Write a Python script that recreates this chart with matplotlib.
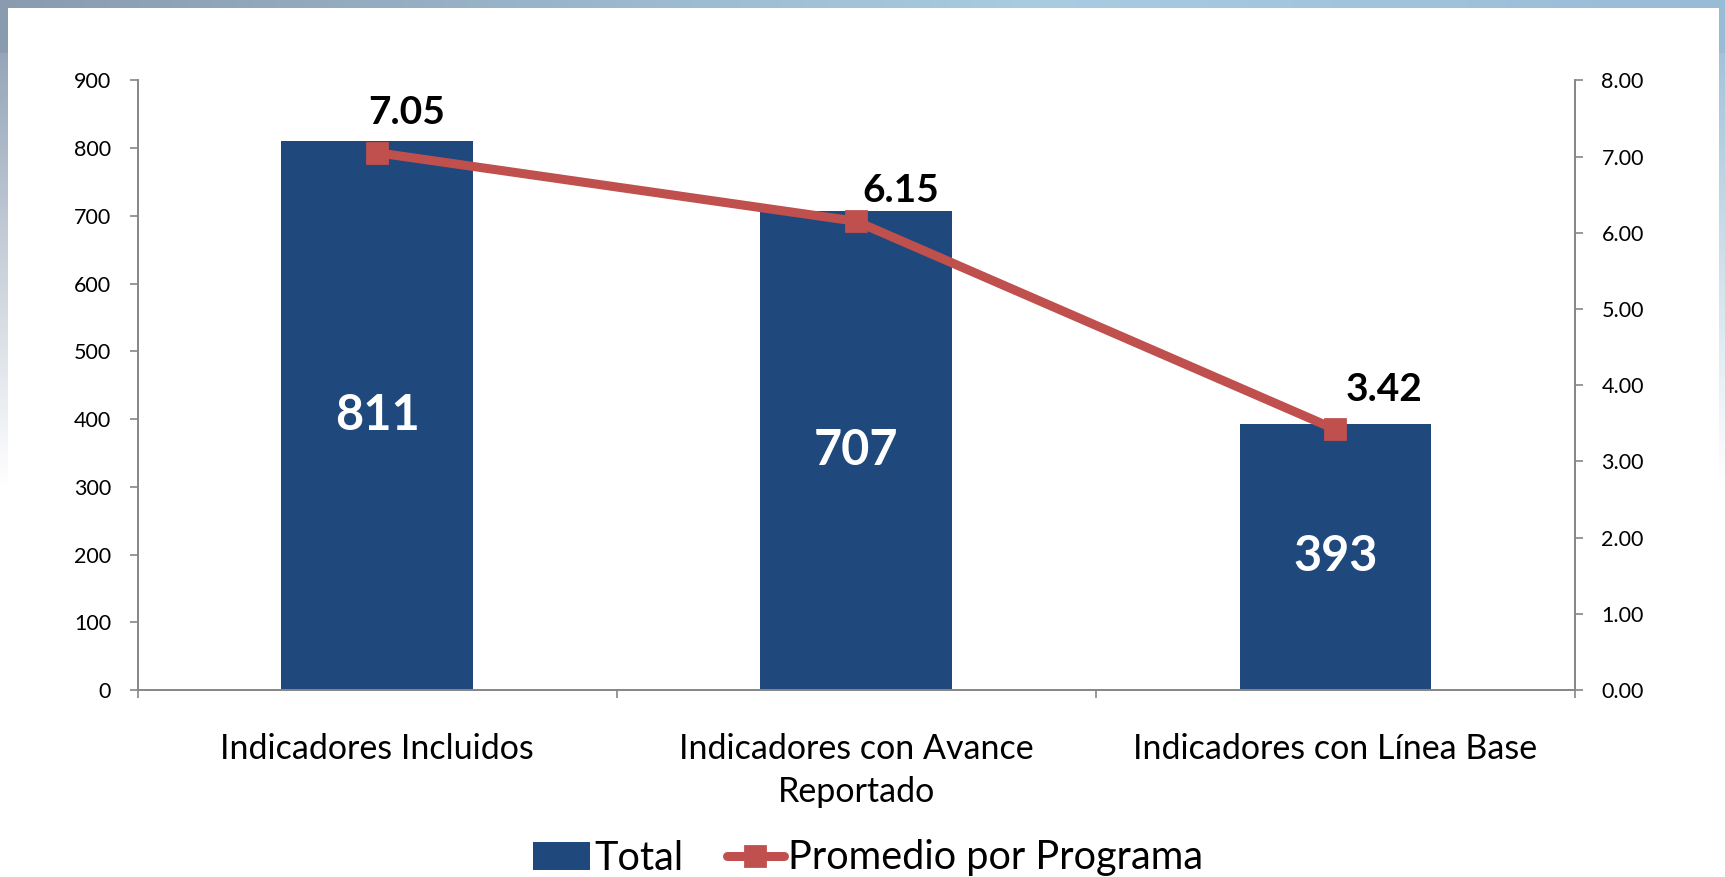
import numpy as np
import matplotlib
matplotlib.use('Agg')
import matplotlib.pyplot as plt
from matplotlib.patches import Rectangle

# Datos
categorias = ['Indicadores Incluidos', 'Indicadores con Avance\nReportado', 'Indicadores con Línea Base']
total = [811, 707, 393]
promedio = [7.05, 6.15, 3.42]

color_barra = '#1F497D'
color_linea = '#C0504D'
color_eje = '#868686'

plt.rcParams['font.family'] = ['Lato', 'DejaVu Sans']

W, H = 1725, 877
fig = plt.figure(figsize=(W / 100, H / 100), dpi=100)

# Marco con degradado (arriba e izquierda)
bg = fig.add_axes([0, 0, 1, 1], zorder=-10)
bg.set_axis_off()
xs = np.linspace(0, 1, 300)
ys = np.linspace(0, 1, 200)[:, None]
c_izq = np.array([138, 155, 176]) / 255
c_med = np.array([168, 204, 224]) / 255
c_der = np.array([152, 188, 214]) / 255
t = xs[:, None]
fila = np.where(t < 0.6, c_izq + (c_med - c_izq) * (t / 0.6), c_med + (c_der - c_med) * ((t - 0.6) / 0.4))
img = np.repeat(fila[None, :, :], 200, axis=0)
fade = np.clip(1 - ys * 1.8, 0, 1)[:, :, None]
img = img * fade + (1 - fade)
img[:12, :, :] = fila[None, :, :]
bg.imshow(img, extent=[0, 1, 0, 1], aspect='auto', transform=bg.transAxes)
bg.add_patch(Rectangle((8 / W, 0), (1719 - 8) / W, (H - 8) / H, transform=bg.transAxes,
                       facecolor='white', edgecolor='none'))

ax = fig.add_axes([137.5 / W, 1 - 690 / H, (1575 - 137.5) / W, (690 - 80.3) / H])
ax2 = ax.twinx()
ax.set_zorder(1)
ax2.set_zorder(2)
ax.patch.set_visible(False)

x = np.arange(len(categorias))
barras = ax.bar(x, total, width=0.4, color=color_barra, zorder=2)
for xi, v in zip(x, total):
    ax.text(xi, v / 2, str(v), ha='center', va='center', color='white',
            fontsize=35, fontweight='bold')

ax.set_xlim(-0.5, 2.5)
ax.set_ylim(0, 900)
ax.set_yticks(range(0, 901, 100))
ax.set_xticks(x)
ax.set_xticklabels(categorias, fontsize=24.5, linespacing=1.42)
ax.set_xticks([-0.5, 0.5, 1.5, 2.5], minor=True)
ax.tick_params(axis='x', which='major', length=0, pad=31)
ax.tick_params(axis='x', which='minor', length=6, color=color_eje, width=1.2)
ax.tick_params(axis='y', length=6, color=color_eje, width=1.2, labelsize=15.5, pad=13)

lineas, = ax2.plot(x, promedio, color=color_linea, linewidth=6.5, marker='s',
                   markersize=15, markerfacecolor=color_linea, markeredgecolor=color_linea,
                   markeredgewidth=2, solid_capstyle='round', zorder=3)
# desplazamiento de las etiquetas en píxeles (x, y)
offsets = [(30, 40), (45, 31), (49, 40)]
for xi, v, (dx, dy) in zip(x, promedio, offsets):
    ax2.annotate(f'{v:.2f}', (xi, v), xytext=(dx * 0.72, dy * 0.72), textcoords='offset points',
                 ha='center', va='center', fontsize=28, fontweight='bold', color='black')
ax2.set_ylim(0, 8)
ax2.set_yticks(np.arange(0, 8.01, 1))
ax2.set_yticklabels([f'{v:.2f}' for v in np.arange(0, 8.01, 1)])
ax2.tick_params(axis='y', length=6, color=color_eje, width=1.2, labelsize=15.5, pad=13)

for a in (ax, ax2):
    a.spines['top'].set_visible(False)
    for s in ('left', 'right', 'bottom'):
        a.spines[s].set_color(color_eje)
        a.spines[s].set_linewidth(1.2)

fig.legend([barras, lineas], ['Total', 'Promedio por Programa'], loc='center',
           bbox_to_anchor=(868 / W, 1 - 858 / H), ncol=2, frameon=False, fontsize=28.5,
           handlelength=1.45, handletextpad=0.1, columnspacing=1.1)

fig.savefig('out.png', dpi=100)
